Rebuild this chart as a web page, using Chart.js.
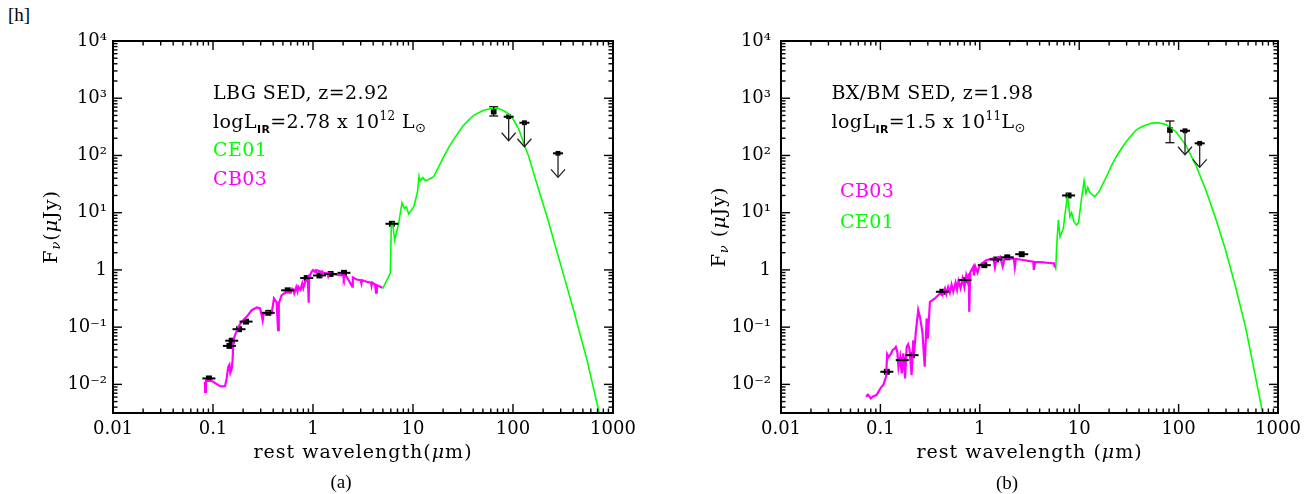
<!DOCTYPE html>
<html><head><meta charset="utf-8">
<script src="https://cdn.jsdelivr.net/npm/chart.js@4.4.1/dist/chart.umd.min.js"></script>
<style>
html,body{margin:0;padding:0;background:#fff;}
body{width:1312px;height:494px;position:relative;overflow:hidden;}
.c{position:absolute;top:0;width:656px;height:494px;}
.cap{position:absolute;font-family:"Liberation Serif",serif;font-size:19px;color:#000;transform:translate(-50%,-50%);white-space:nowrap;}
</style></head><body>
<div class="cap" style="left:19px;top:15px">[h]</div>
<div class="c" style="left:0"><canvas id="ca" width="656" height="494" style="width:656px;height:494px"></canvas></div>
<div class="c" style="left:656px"><canvas id="cb" width="656" height="494" style="width:656px;height:494px"></canvas></div>
<div class="cap" style="left:341px;top:482px">(a)</div>
<div class="cap" style="left:1007px;top:483px">(b)</div>
<script>
// ---------- axes ----------
const xTickValues = [0.01, 0.1, 1, 10, 100, 1000];
const xTickLabels = ['0.01', '0.1', '1', '10', '100', '1000'];
const yTickValues = [0.01, 0.1, 1, 10, 100, 1000, 10000];
const yTickLabels = ['10\u207B\u00B2', '10\u207B\u00B9', '1', '10\u00B9', '10\u00B2', '10\u00B3', '10\u2074'];
const xMin = 0.01, xMax = 1000, yMin = 0.00316, yMax = 10000;

// ---------- panel (a): LBG ----------
const lbgPhotWl = [0.091, 0.146, 0.154, 0.182, 0.214, 0.357, 0.558, 0.865, 1.16, 1.50, 2.04, 6.15];
const lbgPhotF  = [0.0127, 0.047, 0.058, 0.092, 0.125, 0.178, 0.44, 0.72, 0.80, 0.85, 0.89, 6.4];
const lbgErrWl = [64.1];
const lbgErrF  = [582];
const lbgErrLo = [489];
const lbgErrHi = [711];
const lbgLimWl = [90.5, 130, 282];
const lbgLimF  = [475, 373, 109];
const lbgCbWl = [0.083,0.0835,0.085,0.097,0.113,0.12,0.132,0.137,0.142,0.146,0.149,0.154,0.157,0.16,0.166,0.179,0.194,0.217,0.244,0.274,0.295,0.305,0.314,0.322,0.349,0.386,0.407,0.433,0.447,0.455,0.486,0.546,0.6,0.62,0.636,0.65,0.68,0.7,0.713,0.75,0.78,0.8,0.84,0.865,0.885,0.895,0.906,0.915,0.933,0.97,1.0,1.05,1.07,1.1,1.17,1.2,1.22,1.24,1.27,1.4,1.42,1.45,1.6,1.86,2.0,2.03,2.06,2.17,2.47,2.5,2.73,3.0,3.05,3.1,3.44,3.8,3.85,3.9,4.17,4.27,4.35,4.6,4.93];
const lbgCbF  = [0.011,0.0074,0.0115,0.0115,0.0097,0.0092,0.0093,0.0127,0.0202,0.022,0.016,0.019,0.0265,0.059,0.072,0.101,0.124,0.151,0.198,0.221,0.212,0.17,0.132,0.175,0.185,0.174,0.317,0.27,0.089,0.26,0.362,0.415,0.40,0.47,0.455,0.39,0.50,0.42,0.507,0.45,0.58,0.48,0.64,0.66,0.72,0.46,0.266,0.75,0.81,0.93,0.99,0.92,0.99,0.98,0.95,0.93,0.84,0.93,0.89,0.87,0.78,0.87,0.84,0.81,0.80,0.72,0.80,0.76,0.51,0.74,0.68,0.66,0.58,0.66,0.62,0.60,0.53,0.60,0.557,0.40,0.54,0.52,0.49];
const lbgCeWl = [4.97,5.93,6.07,6.26,6.56,7.19,7.76,8.19,8.58,9.05,10.2,11.1,11.5,11.8,12.5,13.3,14.3,16.1,17.4,20.3,22.8,25.5,28.6,32.1,36,40.4,45.4,50.9,57.1,66.6,71.9,80.7,90.6,101.6,114,128,144,161,219,297,404,550,736,760];
const lbgCeF  = [0.47,0.87,6.1,6.5,3.3,6.5,14.9,11.9,12.7,9.5,12.7,23.2,43.6,36,41,36,38,42.5,55.6,95,138,191,256,336,416,501,558,614,647,665,660,605,530,416,290,163,95,48.6,8.5,1.30,0.198,0.0265,0.0029,0.0022];

// ---------- panel (b): BX/BM ----------
const bxPhotWl = [0.116, 0.166, 0.208, 0.42, 0.71, 1.11, 1.46, 1.89, 2.64, 7.82];
const bxPhotF  = [0.0166, 0.0265, 0.0324, 0.415, 0.664, 1.21, 1.52, 1.66, 1.88, 20.0];
const bxErrWl = [81.8];
const bxErrF  = [278];
const bxErrLo = [167];
const bxErrHi = [400];
const bxLimWl = [116, 163];
const bxLimF  = [270, 163];
const bxCbWl = [0.0716,0.075,0.08,0.085,0.0916,0.0975,0.103,0.107,0.114,0.117,0.121,0.127,0.133,0.139,0.143,0.148,0.152,0.158,0.164,0.17,0.177,0.184,0.19,0.196,0.206,0.214,0.22,0.227,0.24,0.252,0.265,0.279,0.292,0.3,0.315,0.354,0.397,0.42,0.446,0.46,0.48,0.5,0.52,0.54,0.57,0.59,0.61,0.64,0.67,0.7,0.73,0.76,0.775,0.783,0.8,0.86,0.87,0.9,0.95,1.0,1.17,1.37,1.42,1.47,1.6,1.7,1.78,2.01,2.2,2.25,2.3,2.54,3.45,3.5,3.6,4.35,5.0,5.57,5.7];
const bxCbF  = [0.0061,0.0066,0.0057,0.0062,0.0065,0.0079,0.0091,0.0098,0.0136,0.0337,0.03,0.0337,0.04,0.042,0.045,0.037,0.02,0.03,0.0155,0.035,0.0127,0.0453,0.05,0.042,0.0145,0.059,0.042,0.08,0.198,0.14,0.08,0.0203,0.142,0.063,0.277,0.317,0.388,0.36,0.474,0.38,0.50,0.40,0.55,0.42,0.60,0.45,0.64,0.48,0.70,0.50,0.80,0.60,0.867,0.185,0.90,1.13,0.80,1.15,0.90,1.21,1.49,1.59,1.1,1.55,1.70,1.15,1.6,1.59,1.55,1.12,1.55,1.52,1.39,1.0,1.38,1.35,1.32,1.30,1.10];
const bxCeWl = [5.8,5.93,6.17,6.41,6.92,7.36,7.59,7.8,8.07,8.38,8.85,9.4,9.85,10.5,11.2,11.7,12.2,12.8,14.3,15.8,18.8,21,23.6,26.5,29.7,33.4,37.4,42,47.1,52.9,61.7,74.7,94,118,149,188,236,297,374,471,571,692,740];
const bxCeF  = [0.99,2.54,7.4,3.8,5.3,12.7,19,15,8.5,10,6.95,6.1,6.7,16.6,36,21.7,27.7,22.3,19,23.2,42.5,65,95,131,174,224,278,314,340,364,374,349,260,152,68,24.8,7.9,2.22,0.507,0.101,0.019,0.00354,0.0022];

// ---------- helpers ----------
const SERIF = '"DejaVu Serif", serif';
const zip = (a, b) => a.map((v, i) => ({x: v, y: b[i]}));

function drawSegs(ctx, x, y, segs, baseFont, color, align) {
  let w = 0;
  for (const s of segs) { ctx.font = s.font || baseFont; w += ctx.measureText(s.t).width; }
  let cx = align === 'center' ? x - w / 2 : x;
  for (const s of segs) {
    ctx.font = s.font || baseFont;
    ctx.fillStyle = s.color || color;
    ctx.fillText(s.t, cx, y + (s.dy || 0));
    cx += ctx.measureText(s.t).width;
  }
}

function line(ctx, x1, y1, x2, y2) { ctx.beginPath(); ctx.moveTo(x1, y1); ctx.lineTo(x2, y2); ctx.stroke(); }

const sedPlugin = {
  id: 'sed',
  afterDatasetsDraw(chart, args, o) {
    const {ctx, chartArea: ca, scales: {x, y}} = chart;
    ctx.save();
    ctx.strokeStyle = '#000'; ctx.lineWidth = 2;
    chart.getDatasetMeta(2).data.forEach(el => line(ctx, el.x - 6.5, el.y, el.x + 6.5, el.y));
    const ed = chart.data.datasets[3];
    ctx.lineWidth = 1.3; ctx.strokeStyle = '#111';
    chart.getDatasetMeta(3).data.forEach((el, i) => {
      const yt = y.getPixelForValue(ed.errHi[i]), yb = y.getPixelForValue(ed.errLo[i]);
      line(ctx, el.x, yt, el.x, yb);
      line(ctx, el.x - 4.5, yt, el.x + 4.5, yt);
      line(ctx, el.x - 4.5, yb, el.x + 4.5, yb);
    });
    chart.getDatasetMeta(4).data.forEach(el => {
      ctx.lineWidth = 2; ctx.strokeStyle = '#000';
      line(ctx, el.x - 5, el.y, el.x + 5, el.y);
      ctx.lineWidth = 1.3; ctx.strokeStyle = '#222';
      const tip = el.y + 24;
      line(ctx, el.x, el.y, el.x, tip);
      ctx.beginPath(); ctx.moveTo(el.x - 7, tip - 8); ctx.lineTo(el.x, tip); ctx.lineTo(el.x + 7, tip - 8); ctx.stroke();
    });
    ctx.restore();
  },
  afterDraw(chart, args, o) {
    const {ctx, chartArea: ca, scales: {x, y}} = chart;
    ctx.save();
    ctx.strokeStyle = '#000'; ctx.lineWidth = 1.4;
    const doTicks = (scale, horiz) => {
      const d0 = Math.floor(Math.log10(scale.min)), d1 = Math.ceil(Math.log10(scale.max));
      for (let d = d0; d <= d1; d++) for (let k = 1; k <= 9; k++) {
        const v = k * Math.pow(10, d);
        if (v < scale.min * 0.999 || v > scale.max * 1.001) continue;
        const p = scale.getPixelForValue(v);
        const L = k === 1 ? 9 : 4.5;
        if (horiz) { line(ctx, p, ca.bottom, p, ca.bottom - L); line(ctx, p, ca.top, p, ca.top + L); }
        else { line(ctx, ca.left, p, ca.left + L, p); line(ctx, ca.right, p, ca.right - L, p); }
      }
    };
    doTicks(x, true); doTicks(y, false);
    ctx.lineWidth = 2;
    ctx.strokeRect(ca.left, ca.top, ca.right - ca.left, ca.bottom - ca.top);
    ctx.textBaseline = 'alphabetic';
    ctx.letterSpacing = '0.4px';
    for (const n of o.notes) drawSegs(ctx, ca.left + n.dx, n.y, n.segs, `19px ${SERIF}`, n.color, 'left');
    ctx.textBaseline = 'middle';
    ctx.letterSpacing = '1px';
    drawSegs(ctx, (ca.left + ca.right) / 2, 453, o.xTitle, `19px ${SERIF}`, '#000', 'center');
    ctx.translate(ca.left - o.yTitleOff, 227);
    ctx.rotate(-Math.PI / 2);
    drawSegs(ctx, 0, 0, o.yTitle, `19px ${SERIF}`, '#000', 'center');
    ctx.restore();
  }
};

function makeChart(id, d) {
  return new Chart(document.getElementById(id), {
    type: 'scatter',
    data: { datasets: [
      {data: zip(d.cbWl, d.cbF), showLine: true, borderColor: '#ff00ff', borderWidth: 2.2, pointRadius: 0, tension: 0},
      {data: zip(d.ceWl, d.ceF), showLine: true, borderColor: '#00ff00', borderWidth: 1.6, pointRadius: 0, tension: 0},
      {data: zip(d.photWl, d.photF), pointStyle: 'rect', pointRadius: 4.2, backgroundColor: '#000', borderWidth: 0},
      {data: zip(d.errWl, d.errF), errLo: d.errLo, errHi: d.errHi, pointStyle: 'rect', pointRadius: 4, backgroundColor: '#000', borderWidth: 0},
      {data: zip(d.limWl, d.limF), pointStyle: 'rect', pointRadius: 3.4, backgroundColor: '#000', borderWidth: 0}
    ]},
    options: {
      animation: false, responsive: false, maintainAspectRatio: false,
      events: [],
      layout: {padding: {left: 0, top: 41, right: d.padRight, bottom: 0}},
      plugins: {legend: {display: false}, tooltip: {enabled: false},
        sed: {notes: d.notes, xTitle: d.xTitle, yTitle: d.yTitle, yTitleOff: 61}},
      scales: {
        x: {type: 'logarithmic', min: xMin, max: xMax,
            grid: {display: false, drawTicks: false}, border: {display: false},
            afterBuildTicks: s => { s.ticks = xTickValues.map(v => ({value: v})); },
            afterFit: s => { s.height = 81; },
            ticks: {callback: (v, i) => xTickLabels[i], autoSkip: false, maxRotation: 0, padding: 6,
                    color: '#000', font: {family: 'DejaVu Serif', size: 18}}},
        y: {type: 'logarithmic', min: yMin, max: yMax,
            grid: {display: false, drawTicks: false}, border: {display: false},
            afterBuildTicks: s => { s.ticks = yTickValues.map(v => ({value: v})); },
            afterFit: s => { s.width = d.yAxisWidth; },
            ticks: {callback: (v, i) => yTickLabels[i], autoSkip: false, padding: d.yPad,
                    color: '#000', font: {family: 'DejaVu Serif', size: 18}}}
      }
    },
    plugins: [sedPlugin]
  });
}

const IT = `italic 19px ${SERIF}`;
const SUB_IR = {t: 'IR', font: 'bold 11px "DejaVu Sans", sans-serif', dy: 5};
const SUN = {t: '\u2299', font: '13px "DejaVu Sans", sans-serif', dy: 4};

makeChart('ca', {
  cbWl: lbgCbWl, cbF: lbgCbF, ceWl: lbgCeWl, ceF: lbgCeF,
  photWl: lbgPhotWl, photF: lbgPhotF, errWl: lbgErrWl, errF: lbgErrF, errLo: lbgErrLo, errHi: lbgErrHi,
  limWl: lbgLimWl, limF: lbgLimF,
  padRight: 43, yAxisWidth: 113, yPad: 6,
  notes: [
    {dx: 100, y: 99, color: '#000', segs: [{t: 'LBG SED, z=2.92'}]},
    {dx: 100, y: 128, color: '#000', segs: [{t: 'logL'}, SUB_IR, {t: '=2.78 x 10'}, {t: '12', font: `12px ${SERIF}`, dy: -8}, {t: ' L'}, SUN]},
    {dx: 100, y: 156, color: '#00ff00', segs: [{t: 'CE01'}]},
    {dx: 100, y: 185, color: '#ff00ff', segs: [{t: 'CB03'}]}
  ],
  xTitle: [{t: 'rest wavelength('}, {t: '\u03BC', font: IT}, {t: 'm)'}],
  yTitle: [{t: 'F'}, {t: '\u03BD', font: `italic 13px ${SERIF}`, dy: 5}, {t: '('}, {t: '\u03BC', font: IT}, {t: 'Jy)'}]
});

makeChart('cb', {
  cbWl: bxCbWl, cbF: bxCbF, ceWl: bxCeWl, ceF: bxCeF,
  photWl: bxPhotWl, photF: bxPhotF, errWl: bxErrWl, errF: bxErrF, errLo: bxErrLo, errHi: bxErrHi,
  limWl: bxLimWl, limF: bxLimF,
  padRight: 34, yAxisWidth: 125, yPad: 10,
  notes: [
    {dx: 50.5, y: 99, color: '#000', segs: [{t: 'BX/BM SED, z=1.98'}]},
    {dx: 50.5, y: 128, color: '#000', segs: [{t: 'logL'}, SUB_IR, {t: '=1.5 x 10'}, {t: '11', font: `12px ${SERIF}`, dy: -8}, {t: 'L'}, SUN]},
    {dx: 59, y: 197, color: '#ff00ff', segs: [{t: 'CB03'}]},
    {dx: 59, y: 228, color: '#00ff00', segs: [{t: 'CE01'}]}
  ],
  xTitle: [{t: 'rest wavelength ('}, {t: '\u03BC', font: IT}, {t: 'm)'}],
  yTitle: [{t: 'F'}, {t: '\u03BD', font: `italic 13px ${SERIF}`, dy: 5}, {t: ' ('}, {t: '\u03BC', font: IT}, {t: 'Jy)'}]
});
</script>
</body></html>
